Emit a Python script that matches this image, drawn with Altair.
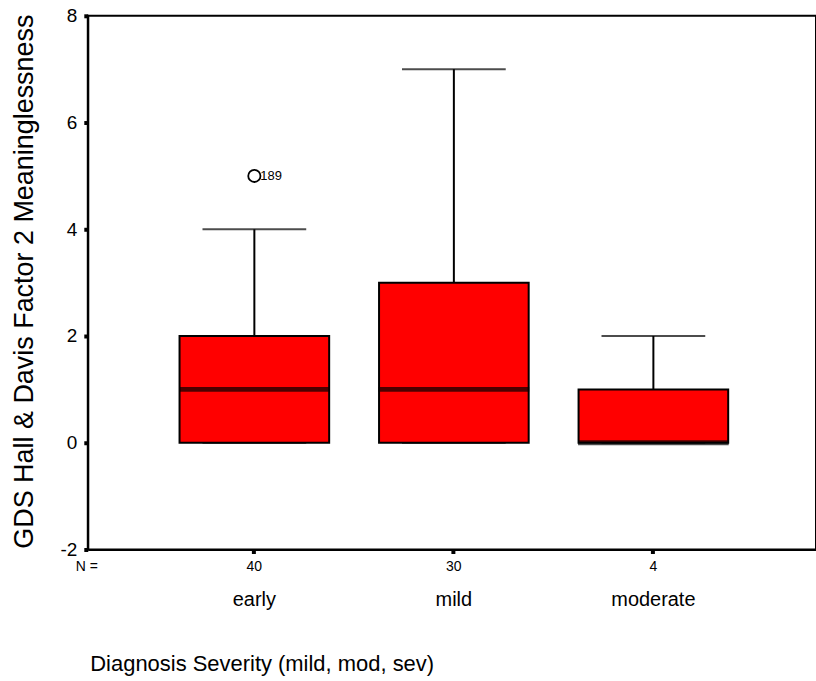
import altair as alt
import pandas as pd

categories = ["early", "mild", "moderate"]
n_cases = [40, 30, 4]
whisker_low = [0, 0, 0]
q1 = [0, 0, 0]
median = [1, 1, 0]
q3 = [2, 3, 1]
whisker_high = [4, 7, 2]

outlier_cat = ["early"]
outlier_val = [5]
outlier_id = ["189"]

FONT = "Liberation Sans"
W, H = 730, 535

df = pd.DataFrame({
    "cat": categories, "n": n_cases, "lo": whisker_low, "q1": q1,
    "med": median, "q3": q3, "hi": whisker_high,
})
out = pd.DataFrame({"cat": outlier_cat, "v": outlier_val, "id": outlier_id})

xscale = alt.Scale(domain=categories, paddingInner=0.25, paddingOuter=0.45, align=0.511)
yscale = alt.Scale(domain=[-2, 8], nice=False, zero=False)

n_expr = "{'early':'40','mild':'30','moderate':'4'}[datum.value]"

base = alt.Chart(df)

# axis layer 1: N counts
box = base.mark_bar(fill="#FF0000", stroke="black", strokeWidth=2).encode(
    x=alt.X("cat:N", scale=xscale, sort=categories, axis=alt.Axis(
        orient="bottom",
        title=None, labelExpr=n_expr, labelFontSize=14, labelFont=FONT,
        labelColor="black", tickSize=4, tickWidth=4, tickColor="black",
        domainColor="black", domainWidth=2, labelPadding=6, labelAngle=0,
        grid=False)),
    y=alt.Y("q1:Q", scale=yscale, axis=alt.Axis(
        orient="left",
        title="GDS Hall & Davis Factor 2 Meaninglessness", titleFont=FONT,
        titleFontSize=27, titleFontWeight="normal", titleColor="black",
        titleX=-55, titleY=266, titleAlign="center", titleBaseline="alphabetic",
        titleAngle=270,
        values=[-2, 0, 2, 4, 6, 8], labelExpr="toString(datum.value)",
        labelFontSize=19, labelFont=FONT,
        labelColor="black", tickSize=4, tickWidth=4, tickColor="black",
        domainColor="black", domainWidth=2, labelPadding=7, grid=False)),
    y2="q3:Q",
)

upper = base.mark_rule(color="black", strokeWidth=2).encode(
    x=alt.X("cat:N", scale=xscale, sort=categories, axis=None),
    y=alt.Y("q3:Q", scale=yscale, axis=None), y2="hi:Q")
lower = base.mark_rule(color="black", strokeWidth=2).encode(
    x=alt.X("cat:N", scale=xscale, sort=categories, axis=None),
    y=alt.Y("lo:Q", scale=yscale, axis=None), y2="q1:Q")
cap_hi = base.mark_tick(color="black", thickness=2, size=104, orient="horizontal").encode(
    x=alt.X("cat:N", scale=xscale, sort=categories, axis=None),
    y=alt.Y("hi:Q", scale=yscale, axis=None))
cap_lo = base.mark_tick(color="black", thickness=2, size=104, orient="horizontal").encode(
    x=alt.X("cat:N", scale=xscale, sort=categories, axis=None),
    y=alt.Y("lo:Q", scale=yscale, axis=None))

# axis layer 2: category names + x title
med = base.mark_tick(color="black", thickness=5, size=151, orient="horizontal").encode(
    x=alt.X("cat:N", scale=xscale, sort=categories, axis=alt.Axis(
        orient="bottom",
        title="Diagnosis Severity (mild, mod, sev)", titleFont=FONT,
        titleFontSize=22, titleFontWeight="normal", titleColor="black",
        titleX=2, titleY=121, titleAlign="left", titleBaseline="alphabetic",
        titleAnchor="start",
        labelFontSize=20, labelFont=FONT, labelColor="black", labelAngle=0,
        tickSize=0, domain=False, labelPadding=40, grid=False)),
    y=alt.Y("med:Q", scale=yscale, axis=None))

pt = alt.Chart(out).mark_point(shape="circle", filled=False, color="black",
                               size=150, strokeWidth=1.8, opacity=1).encode(
    x=alt.X("cat:N", scale=xscale, sort=categories, axis=None),
    y=alt.Y("v:Q", scale=yscale, axis=None))
pt_lab = alt.Chart(out).mark_text(align="left", baseline="middle", dx=6,
                                  font=FONT, fontSize=13, color="black").encode(
    x=alt.X("cat:N", scale=xscale, sort=categories, axis=None),
    y=alt.Y("v:Q", scale=yscale, axis=None), text="id:N")

n_lab = alt.Chart(pd.DataFrame({"t": ["N ="]})).mark_text(
    align="center", baseline="middle", font=FONT, fontSize=14, color="black").encode(
    x=alt.value(-1), y=alt.value(H + 18), text="t:N")

chart = alt.layer(lower, cap_lo, upper, cap_hi, box, med, pt, pt_lab, n_lab).resolve_axis(
    x="independent", y="independent"
).properties(
    width=W, height=H,
    autosize=alt.AutoSizeParams(type="none"),
    padding={"left": 88, "top": 15, "right": 0, "bottom": 131},
    background="white",
).configure_view(stroke="black", strokeWidth=2)

chart.save("out.html", embed_options={"renderer": "svg", "actions": False})
